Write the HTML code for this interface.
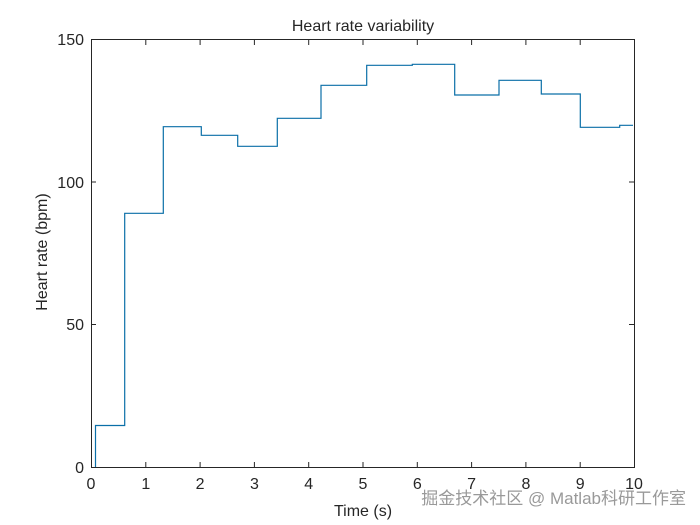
<!DOCTYPE html>
<html><head><style>body{margin:0;background:#fff}svg{display:block}</style></head><body>
<svg width="700" height="525" xmlns="http://www.w3.org/2000/svg" font-family="Liberation Sans, Arial, sans-serif">
<rect width="700" height="525" fill="#fff"/>
<g stroke="#262626" stroke-width="1" fill="none">
<rect x="91.5" y="39.5" width="543" height="428"/>
<path d="M145.8 467v-5M200.1 467v-5M254.4 467v-5M308.7 467v-5M363 467v-5M417.3 467v-5M471.6 467v-5M525.9 467v-5M580.2 467v-5
M145.8 40v5M200.1 40v5M254.4 40v5M308.7 40v5M363 40v5M417.3 40v5M471.6 40v5M525.9 40v5M580.2 40v5
M91 324.5h5M91 182h5M634 324.5h-5M634 182h-5"/>
</g>
<path fill="none" stroke="#0a6fa8" stroke-width="1.2" d="M95.5 467V425.5H124.7V213.3H163.3V126.7H201.3V135.3H237.7V146.3H277.3V118.3H321V85.3H366.7V65.3H412.3V64.3H454.7V95H499V80.3H541.3V94H580.3V127.3H619.7V125.3H633"/>
<g font-size="16" fill="#262626" text-anchor="middle">
<text x="91" y="489">0</text><text x="145.8" y="489">1</text><text x="200.1" y="489">2</text><text x="254.4" y="489">3</text><text x="308.7" y="489">4</text><text x="363" y="489">5</text><text x="417.3" y="489">6</text><text x="471.6" y="489">7</text><text x="525.9" y="489">8</text><text x="580.2" y="489">9</text><text x="634" y="489">10</text>
<text x="363" y="516">Time (s)</text>
<text x="363" y="31" font-size="16">Heart rate variability</text>
<text x="47" y="252" transform="rotate(-90 47 252)">Heart rate (bpm)</text>
</g>
<g font-size="16" fill="#262626" text-anchor="end">
<text x="84" y="473">0</text><text x="84" y="330">50</text><text x="84" y="188">100</text><text x="84" y="45">150</text>
</g>
<text x="686" y="504" font-size="17" fill="#999" text-anchor="end" font-family="Liberation Sans, Noto Sans CJK SC, sans-serif">掘金技术社区 @ Matlab科研工作室</text>
</svg>
</body></html>
